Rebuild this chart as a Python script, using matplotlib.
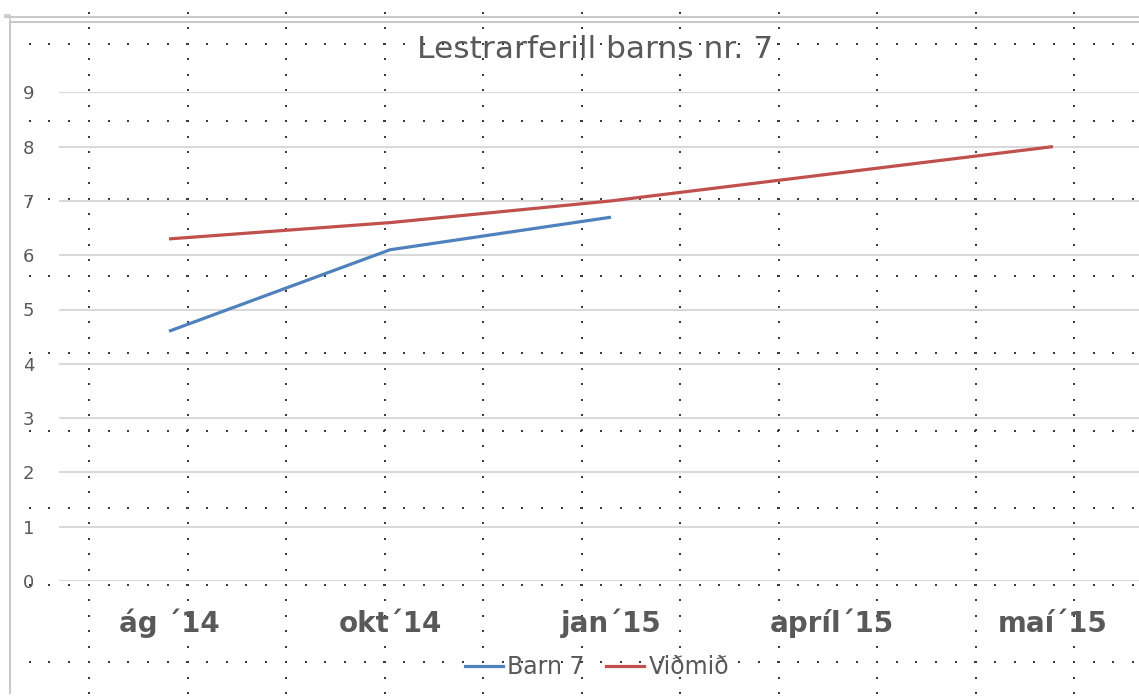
import numpy as np
import matplotlib
matplotlib.use("Agg")
import matplotlib.pyplot as plt
from matplotlib.lines import Line2D

# ---- data ----
categories = ["ág \u00b414", "okt\u00b414", "jan\u00b415", "apríl\u00b415", "maí\u00b415"]
barn7 = [4.6, 6.1, 6.7]
vidmid = [6.3, 6.6, 7.0, 7.5, 8.0]
series_names = ["Barn 7", "Viðmið"]
title = "Lestrarferill barns nr. 7"
yticks = list(range(0, 10))

W, H = 1139, 698
fig = plt.figure(figsize=(W / 100, H / 100), dpi=100)
fig.patch.set_facecolor("white")

# ---- background dotted slide grid & frame ----
bg = fig.add_axes([0, 0, 1, 1], zorder=0)
bg.set_xlim(0, W)
bg.set_ylim(H, 0)
bg.axis("off")
col_x = np.arange(89, W, 98.5)
row_y = np.arange(44, H, 77.3)
dx = np.arange(10, W, 98.5 / 5)
dy = np.arange(13, H, 77.3 / 5)
px, py = [], []
for y in row_y:
    px.extend(dx); py.extend([y] * len(dx))
for x in col_x:
    px.extend([x] * len(dy)); py.extend(dy)
bg.scatter(px, py, s=1.4, marker="s", color="#3a3a3a", linewidths=0)
fc = "#c9c9c9"
bg.plot([5, W], [17, 17], color=fc, lw=1.5)
bg.plot([10, W], [22, 22], color=fc, lw=1.5)
bg.plot([10, 10], [22, 693], color=fc, lw=1.5)
bg.plot([5, 10, 10], [15, 15, 22], color=fc, lw=1.2)

# ---- chart axes ----
x0, x1 = 58.5, 1163.5
y0, y9 = 581, 92.3
ax = fig.add_axes([x0 / W, 1 - y0 / H, (x1 - x0) / W, (y0 - y9) / H], zorder=2)
ax.set_facecolor("none")
xs = np.arange(len(categories))
ax.set_xlim(-0.5, len(categories) - 0.5)
ax.set_ylim(0, 9)
ax.set_yticks(yticks)
ax.set_xticks(xs)
ax.set_xticklabels(categories, fontsize=20, fontweight="bold", color="#595959", va="baseline")
ax.tick_params(axis="x", length=0, pad=37)
ax.tick_params(axis="y", length=0, pad=17.5, labelsize=13, labelcolor="#595959")
ax.grid(axis="y", color="#d9d9d9", lw=1.5)
ax.set_axisbelow(True)
for s in ax.spines.values():
    s.set_visible(False)

ax.plot(xs[:len(barn7)], barn7, color="#4f81bd", lw=2.3, solid_capstyle="butt", zorder=3)
ax.plot(xs, vidmid, color="#c0504d", lw=2.3, solid_capstyle="butt", zorder=3)

fig.text(595 / W, 1 - 50 / H, title, fontsize=22.5, color="#595959", ha="center", va="center")

handles = [Line2D([], [], color="#4f81bd", lw=2.3), Line2D([], [], color="#c0504d", lw=2.3)]
fig.legend(handles, series_names, loc="center", bbox_to_anchor=(597 / W, 1 - 667 / H),
           ncol=2, frameon=False, fontsize=17, labelcolor="#595959",
           handlelength=1.6, handletextpad=0.2, columnspacing=0.9)

fig.savefig("out.png", dpi=100, facecolor="white")
